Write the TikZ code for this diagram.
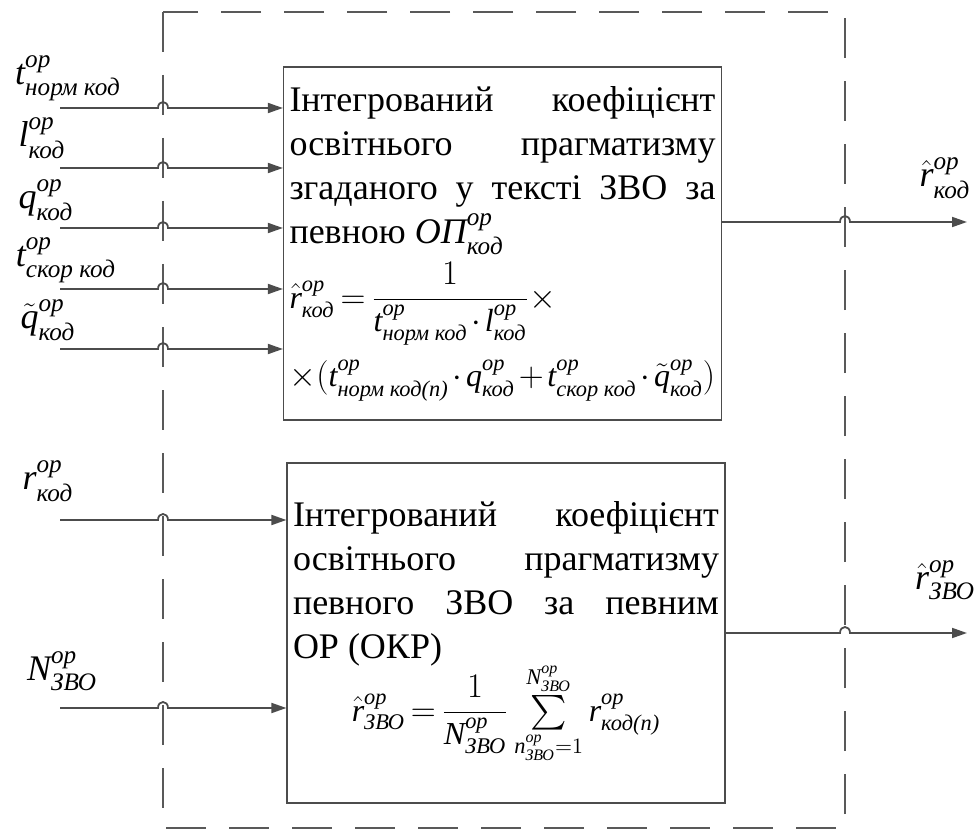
\documentclass[tikz,border=0pt]{standalone}
\usepackage{amsmath}
\usepackage{fontspec}
\setmainfont{Liberation Serif}
\usetikzlibrary{arrows.meta, calc, positioning}

\newcommand{\ki}[1]{\textit{#1}}
\newcommand{\fml}{\fontsize{16}{20}\selectfont\medmuskip=2mu\thickmuskip=3mu}

\begin{document}
\begin{tikzpicture}[x=0.5pt, y=-0.5pt,
    blk/.style={rectangle, draw=black!70, line width=0.6pt, inner xsep=3pt, text width=213pt, align=justify, font=\fontsize{18}{22}\selectfont},
    lbl/.style={inner sep=0pt, font=\fontsize{18}{20}\selectfont},
    arrow/.style={draw=black!70, line width=0.9pt, -{Triangle[length=7.5pt,width=5pt]}},
    dframe/.style={draw=black!65, line width=1pt, dash pattern=on 20pt off 11.5pt}
]
\useasboundingbox (0,0) rectangle (976,829);
\draw [dframe] (163,12) rectangle (845,828);
\node (kod) [blk, minimum height=176.5pt] at (502.5,243.5) {Інтегрований коефіцієнт\linebreak освітнього прагматизму\linebreak згаданого у тексті ЗВО за\linebreak певною $\ki{ОП}^{\ki{ор}}_{\ki{код}}$\par\vspace{3pt}
{\fml $\hat{\ki{r}}^{\ki{ор}}_{\ki{код}}=\dfrac{1}{\ki{t}^{\ki{ор}}_{\ki{норм код}}\cdot \ki{l}^{\ki{ор}}_{\ki{код}}}\times$\par}\vspace{6pt}
{\fml $\times(\ki{t}^{\ki{ор}}_{\ki{норм код(n)}}\cdot\ki{q}^{\ki{ор}}_{\ki{код}}+\ki{t}^{\ki{ор}}_{\ki{скор код}}\cdot\tilde{\ki{q}}^{\ki{ор}}_{\ki{код}})$\par}};
\node (zvo) [blk, minimum height=170pt] at (506,633) {Інтегрований коефіцієнт\linebreak освітнього прагматизму\linebreak певного ЗВО за певним\linebreak ОР (ОКР)\par\vspace{-3pt}
{\centering\fml $\hat{\ki{r}}^{\ki{ор}}_{\ki{ЗВО}}=\dfrac{1}{\ki{N}^{\ki{ор}}_{\ki{ЗВО}}}\sum\limits_{\ki{n}^{\ki{ор}}_{\ki{ЗВО}}=1}^{\ki{N}^{\ki{ор}}_{\ki{ЗВО}}}\ki{r}^{\ki{ор}}_{\ki{код(n)}}$\par}\vspace{28pt}};
\coordinate (fl) at (163,0);
\coordinate (fr) at (845,0);
\coordinate (s1) at (60,108);
\coordinate (s2) at (60,168);
\coordinate (s3) at (60,228);
\coordinate (s4) at (60,289);
\coordinate (s5) at (60,349);
\coordinate (s6) at (60,520);
\coordinate (s7) at (60,708);
\coordinate (e1) at (967,222);
\coordinate (e2) at (967,633);
\node (lt1) [lbl] at (68,78) {$\ki{t}^{\ki{ор}}_{\ki{норм код}}$};
\node (ll) [lbl] at (42,138) {$\ki{l}^{\ki{ор}}_{\ki{код}}$};
\node (lq) [lbl] at (46,200) {$\ki{q}^{\ki{ор}}_{\ki{код}}$};
\node (lt2) [lbl] at (66,260) {$\ki{t}^{\ki{ор}}_{\ki{скор код}}$};
\node (lqt) [lbl] at (48,320) {$\tilde{\ki{q}}^{\ki{ор}}_{\ki{код}}$};
\node (lr) [lbl] at (48,481) {$\ki{r}^{\ki{ор}}_{\ki{код}}$};
\node (ln) [lbl] at (62,671) {$\ki{N}^{\ki{ор}}_{\ki{ЗВО}}$};
\node (lrk) [lbl] at (945,178) {$\hat{\ki{r}}^{\ki{ор}}_{\ki{код}}$};
\node (lrz) [lbl] at (945,580) {$\hat{\ki{r}}^{\ki{ор}}_{\ki{ЗВО}}$};
\draw [arrow] (s1) -- ($(s1 -| fl)+(-5,0)$) .. controls +(0,-8) and +(0,-8) .. ++(10,0) -- (kod.west |- s1);
\draw [arrow] (s2) -- ($(s2 -| fl)+(-5,0)$) .. controls +(0,-8) and +(0,-8) .. ++(10,0) -- (kod.west |- s2);
\draw [arrow] (s3) -- ($(s3 -| fl)+(-5,0)$) .. controls +(0,-8) and +(0,-8) .. ++(10,0) -- (kod.west |- s3);
\draw [arrow] (s4) -- ($(s4 -| fl)+(-5,0)$) .. controls +(0,-8) and +(0,-8) .. ++(10,0) -- (kod.west |- s4);
\draw [arrow] (s5) -- ($(s5 -| fl)+(-5,0)$) .. controls +(0,-8) and +(0,-8) .. ++(10,0) -- (kod.west |- s5);
\draw [arrow] (s6) -- ($(s6 -| fl)+(-5,0)$) .. controls +(0,-8) and +(0,-8) .. ++(10,0) -- (zvo.west |- s6);
\draw [arrow] (s7) -- ($(s7 -| fl)+(-5,0)$) .. controls +(0,-8) and +(0,-8) .. ++(10,0) -- (zvo.west |- s7);
\draw [arrow] (kod.east |- e1) -- ($(e1 -| fr)+(-5,0)$) .. controls +(0,-8) and +(0,-8) .. ++(10,0) -- (e1);
\draw [arrow] (zvo.east |- e2) -- ($(e2 -| fr)+(-5,0)$) .. controls +(0,-8) and +(0,-8) .. ++(10,0) -- (e2);
\end{tikzpicture}
\end{document}
